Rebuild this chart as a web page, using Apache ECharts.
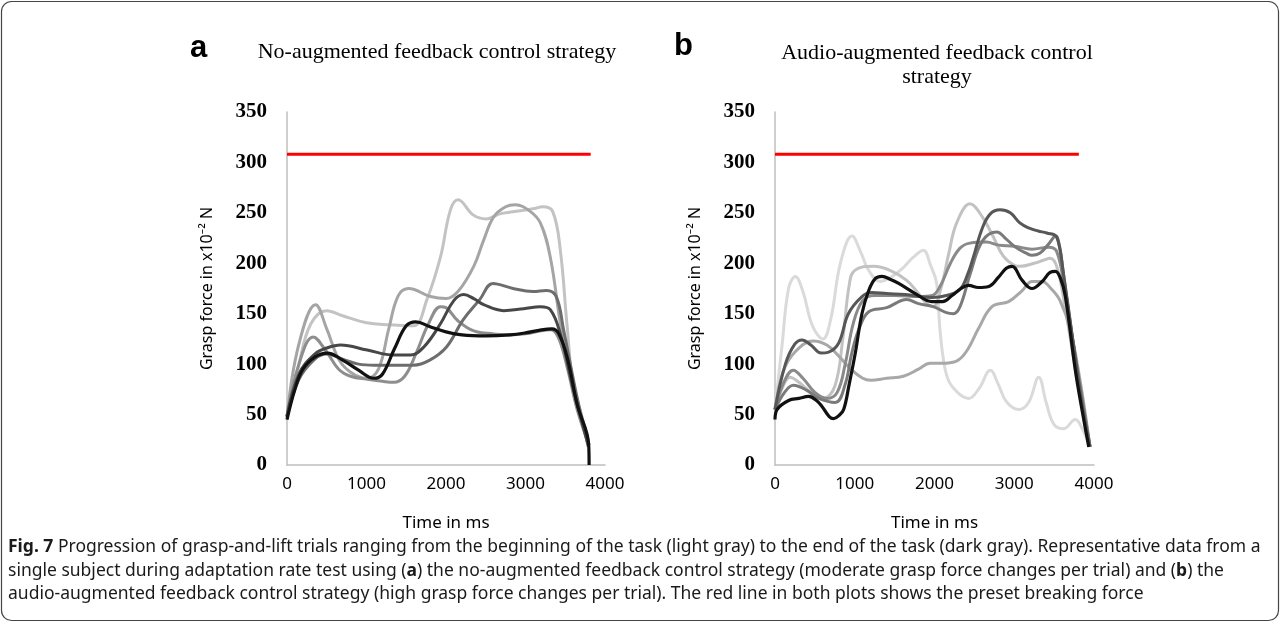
<!DOCTYPE html>
<html><head><meta charset="utf-8">
<script src="https://cdn.jsdelivr.net/npm/echarts@6/dist/echarts.min.js"></script>
<style>html,body{margin:0;padding:0;background:#fff}#c{width:1281px;height:624px}</style>
</head><body><div id="c"></div>
<script>
// ---------- data (time in ms, grasp force in x10^-2 N) ----------
const yTicks = [0, 50, 100, 150, 200, 250, 300, 350];
const xTicks = [0, 1000, 2000, 3000, 4000];
const breakingForce = 308;
const breakLeftEnd = 3820;
const breakRightEnd = 3810;

// Panel a: no-augmented feedback (light gray -> black)
const aTrial1 = [[0,48],[150,100],[300,140],[500,153],[700,148],[1000,141],[1300,139],[1590,138],[1760,164],[1930,206],[2056,253],[2153,263],[2341,248],[2508,244],[2675,249],[2842,251],[3093,254],[3219,256],[3344,251],[3438,213],[3521,140],[3605,74],[3730,35],[3800,20]];
const aTrial2 = [[0,48],[150,120],[360,159],[500,135],[650,105],[800,92],[1000,86],[1150,95],[1280,135],[1400,168],[1532,175],[1805,167],[2000,165],[2150,172],[2349,197],[2474,223],[2600,246],[2750,256],[2872,258],[3050,252],[3187,240],[3312,206],[3438,141],[3564,91],[3730,42],[3800,20]];
const aTrial3 = [[0,48],[150,100],[330,127],[500,112],[650,95],[800,88],[1009,85],[1200,83],[1344,82],[1480,88],[1620,110],[1780,140],[1930,157],[2000,156],[2150,143],[2350,133],[2600,130],[2800,129],[3000,130],[3200,133],[3320,134],[3420,125],[3530,95],[3650,55],[3800,20]];
const aTrial4 = [[0,48],[150,85],[350,105],[500,110],[700,105],[900,100],[1100,99],[1300,99],[1587,99],[1796,104],[2006,117],[2215,144],[2424,164],[2591,180],[2843,175],[3093,172],[3262,173],[3387,167],[3479,134],[3646,68],[3790,18]];
const aTrial5 = [[0,48],[150,90],[350,110],[500,116],[674,119],[1009,114],[1344,109],[1553,109],[1721,117],[1930,140],[2098,163],[2223,169],[2349,165],[2474,159],[2725,153],[2977,155],[3187,157],[3312,154],[3438,130],[3605,74],[3790,20]];
const aTrial6 = [[0,45],[100,75],[200,95],[350,107],[507,111],[700,104],[900,94],[1093,86],[1200,90],[1350,115],[1500,138],[1620,142],[1800,137],[2000,132],[2200,129],[2500,128],[2800,129],[3000,131],[3200,134],[3330,135],[3420,130],[3530,105],[3650,60],[3795,20],[3800,0]];

// Panel b: audio-augmented feedback (light gray -> black)
const bTrial1 = [[0,55],[90,120],[170,175],[255,187],[350,172],[470,138],[600,125],[700,145],[820,200],[966,227],[1080,210],[1175,193],[1317,182],[1450,186],[1600,195],[1734,206],[1860,213],[1950,198],[2027,180],[2069,134],[2136,94],[2220,78],[2429,66],[2560,76],[2700,94],[2800,80],[2900,63],[3056,55],[3180,62],[3307,87],[3400,62],[3500,40],[3620,36],[3766,45],[3840,38],[3950,18]];
const bTrial2 = [[0,55],[100,78],[188,87],[300,82],[450,72],[600,66],[750,78],[850,125],[930,178],[1000,193],[1233,197],[1442,193],[1651,183],[1800,170],[1902,160],[1985,157],[2080,175],[2180,210],[2278,240],[2445,259],[2600,246],[2738,226],[2863,207],[3000,198],[3072,197],[3250,200],[3365,203],[3449,205],[3540,195],[3650,150],[3800,80],[3950,18]];
const bTrial3 = [[0,55],[100,92],[250,112],[480,123],[650,119],[800,108],[950,95],[1100,86],[1200,84],[1400,86],[1609,88],[1800,95],[1944,101],[2150,101],[2300,104],[2420,115],[2550,135],[2721,157],[2930,162],[3100,173],[3223,182],[3348,182],[3460,175],[3574,163],[3700,135],[3825,84],[3950,18]];
const bTrial4 = [[0,55],[100,80],[230,94],[350,86],[500,72],[650,66],[780,72],[880,100],[980,140],[1100,163],[1250,168],[1500,168],[1800,167],[1969,168],[2069,177],[2200,200],[2320,215],[2445,220],[2650,221],[2805,218],[3000,217],[3223,214],[3432,216],[3530,212],[3620,180],[3760,110],[3950,18]];
const bTrial5 = [[0,55],[120,72],[230,79],[400,74],[550,66],[756,62],[880,80],[960,110],[1049,134],[1175,152],[1400,156],[1651,164],[1800,160],[1985,157],[2150,151],[2236,150],[2320,157],[2450,190],[2600,222],[2780,231],[2900,224],[3014,216],[3150,210],[3223,208],[3320,210],[3420,218],[3520,227],[3570,215],[3650,170],[3800,90],[3950,18]];
const bTrial6 = [[0,55],[130,100],[250,120],[339,124],[450,119],[580,111],[673,112],[799,121],[920,150],[1091,167],[1216,171],[1400,170],[1634,169],[1969,166],[2150,168],[2320,174],[2420,190],[2487,206],[2600,235],[2700,249],[2822,253],[2950,250],[3070,240],[3181,235],[3300,232],[3407,230],[3532,226],[3616,190],[3741,120],[3850,60],[3950,18]];
const bTrial7 = [[0,45],[25,55],[171,64],[300,66],[422,68],[520,64],[589,58],[680,48],[736,46],[800,49],[861,55],[930,80],[1007,111],[1090,150],[1175,173],[1260,185],[1342,187],[1450,184],[1551,180],[1760,170],[1969,162],[2100,162],[2220,168],[2330,175],[2429,178],[2550,176],[2680,177],[2800,186],[2900,195],[2972,197],[3100,183],[3223,175],[3350,182],[3450,191],[3515,192],[3580,185],[3641,167],[3766,94],[3860,50],[3934,18]];

const aTrials = [aTrial1, aTrial2, aTrial3, aTrial4, aTrial5, aTrial6];
const bTrials = [bTrial1, bTrial2, bTrial3, bTrial4, bTrial5, bTrial6, bTrial7];
const aColors = ['#c3c3c3', '#a5a5a5', '#8e8e8e', '#6d6d6d', '#474747', '#111111'];
const bColors = ['#dadada', '#c2c2c2', '#a8a8a8', '#8a8a8a', '#7a7a7a', '#575757', '#111111'];

// ---------- chart ----------
const chart = echarts.init(document.getElementById('c'), null, {renderer: 'canvas'});
const SANS = 'Noto Sans';
const SERIF = 'Liberation Serif';

function xAxisCfg(gi) {
  return {
    gridIndex: gi, type: 'value', min: xTicks[0], max: xTicks[xTicks.length - 1], interval: 1000,
    axisLine: {lineStyle: {color: '#bfbfbf', width: 1.5}},
    axisTick: {show: false}, splitLine: {show: false},
    axisLabel: {fontFamily: SANS, fontSize: 17, color: '#000', margin: 11, formatter: v => String(v)},
    name: 'Time in ms', nameLocation: 'middle', nameGap: 50,
    nameTextStyle: {fontFamily: SANS, fontSize: 17, color: '#000'}
  };
}
function yAxisCfg(gi) {
  return {
    gridIndex: gi, type: 'value', min: yTicks[0], max: yTicks[yTicks.length - 1], interval: 50,
    axisLine: {show: true, lineStyle: {color: '#bfbfbf', width: 1.5}},
    axisTick: {show: false}, splitLine: {show: false},
    axisLabel: {fontFamily: SERIF, fontWeight: 'bold', fontSize: 21, color: '#000', margin: 20, formatter: v => String(v)},
    name: 'Grasp force in x10\u207B\u00B2 N', nameLocation: 'middle', nameGap: 72,
    nameTextStyle: {fontFamily: SANS, fontSize: 16, color: '#000'}
  };
}

const series = [];
aTrials.forEach((d, i) => series.push({
  type: 'line', xAxisIndex: 0, yAxisIndex: 0, data: d, smooth: 0.4, showSymbol: false,
  lineStyle: {color: aColors[i], width: i === aTrials.length - 1 ? 3.2 : 3}, z: 2 + i
}));
bTrials.forEach((d, i) => series.push({
  type: 'line', xAxisIndex: 1, yAxisIndex: 1, data: d, smooth: 0.4, showSymbol: false,
  lineStyle: {color: bColors[i], width: i === bTrials.length - 1 ? 3.2 : 3}, z: 2 + i
}));
series.push({type: 'line', xAxisIndex: 0, yAxisIndex: 0, showSymbol: false, z: 20,
  data: [[0, breakingForce], [breakLeftEnd, breakingForce]], lineStyle: {color: '#ff0000', width: 3}});
series.push({type: 'line', xAxisIndex: 1, yAxisIndex: 1, showSymbol: false, z: 20,
  data: [[0, breakingForce], [breakRightEnd, breakingForce]], lineStyle: {color: '#ff0000', width: 3}});

const CAP = 17.5;
const capStyle = {fontFamily: SANS, fontSize: CAP, fill: '#1a1a1a', textVerticalAlign: 'middle',
  rich: {b: {fontFamily: SANS, fontSize: CAP, fontWeight: 'bold', fill: '#1a1a1a'}}};

chart.setOption({
  animation: false,
  backgroundColor: '#fff',
  grid: [
    {left: 287, top: 112, width: 318, height: 353},
    {left: 775, top: 112, width: 319, height: 353}
  ],
  xAxis: [xAxisCfg(0), xAxisCfg(1)],
  yAxis: [yAxisCfg(0), yAxisCfg(1)],
  series: series,
  graphic: [
    {type: 'rect', shape: {x: 1.5, y: 1.5, width: 1277, height: 619, r: 10},
     style: {fill: 'none', stroke: '#444', lineWidth: 1.2}, silent: true},
    {type: 'text', x: 190, y: 64, style: {text: 'a', fontFamily: 'Liberation Sans', fontWeight: 'bold', fontSize: 31, fill: '#000', textVerticalAlign: 'bottom'}},
    {type: 'text', x: 674, y: 62, style: {text: 'b', fontFamily: 'Liberation Sans', fontWeight: 'bold', fontSize: 31, fill: '#000', textVerticalAlign: 'bottom'}},
    {type: 'text', x: 437, y: 52, style: {text: 'No-augmented feedback control strategy', fontFamily: SERIF, fontSize: 22, fill: '#000', textAlign: 'center', textVerticalAlign: 'middle'}},
    {type: 'text', x: 937, y: 53, style: {text: 'Audio-augmented feedback control', fontFamily: SERIF, fontSize: 22, fill: '#000', textAlign: 'center', textVerticalAlign: 'middle'}},
    {type: 'text', x: 937, y: 77, style: {text: 'strategy', fontFamily: SERIF, fontSize: 22, fill: '#000', textAlign: 'center', textVerticalAlign: 'middle'}},
    {type: 'text', x: 8, y: 547, style: Object.assign({}, capStyle, {text: '{b|Fig. 7} Progression of grasp-and-lift trials ranging from the beginning of the task (light gray) to the end of the task (dark gray). Representative data from a'})},
    {type: 'text', x: 8, y: 571, style: Object.assign({}, capStyle, {text: 'single subject during adaptation rate test using ({b|a}) the no-augmented feedback control strategy (moderate grasp force changes per trial) and ({b|b}) the'})},
    {type: 'text', x: 8, y: 594, style: Object.assign({}, capStyle, {text: 'audio-augmented feedback control strategy (high grasp force changes per trial). The red line in both plots shows the preset breaking force'})}
  ]
});
</script></body></html>
